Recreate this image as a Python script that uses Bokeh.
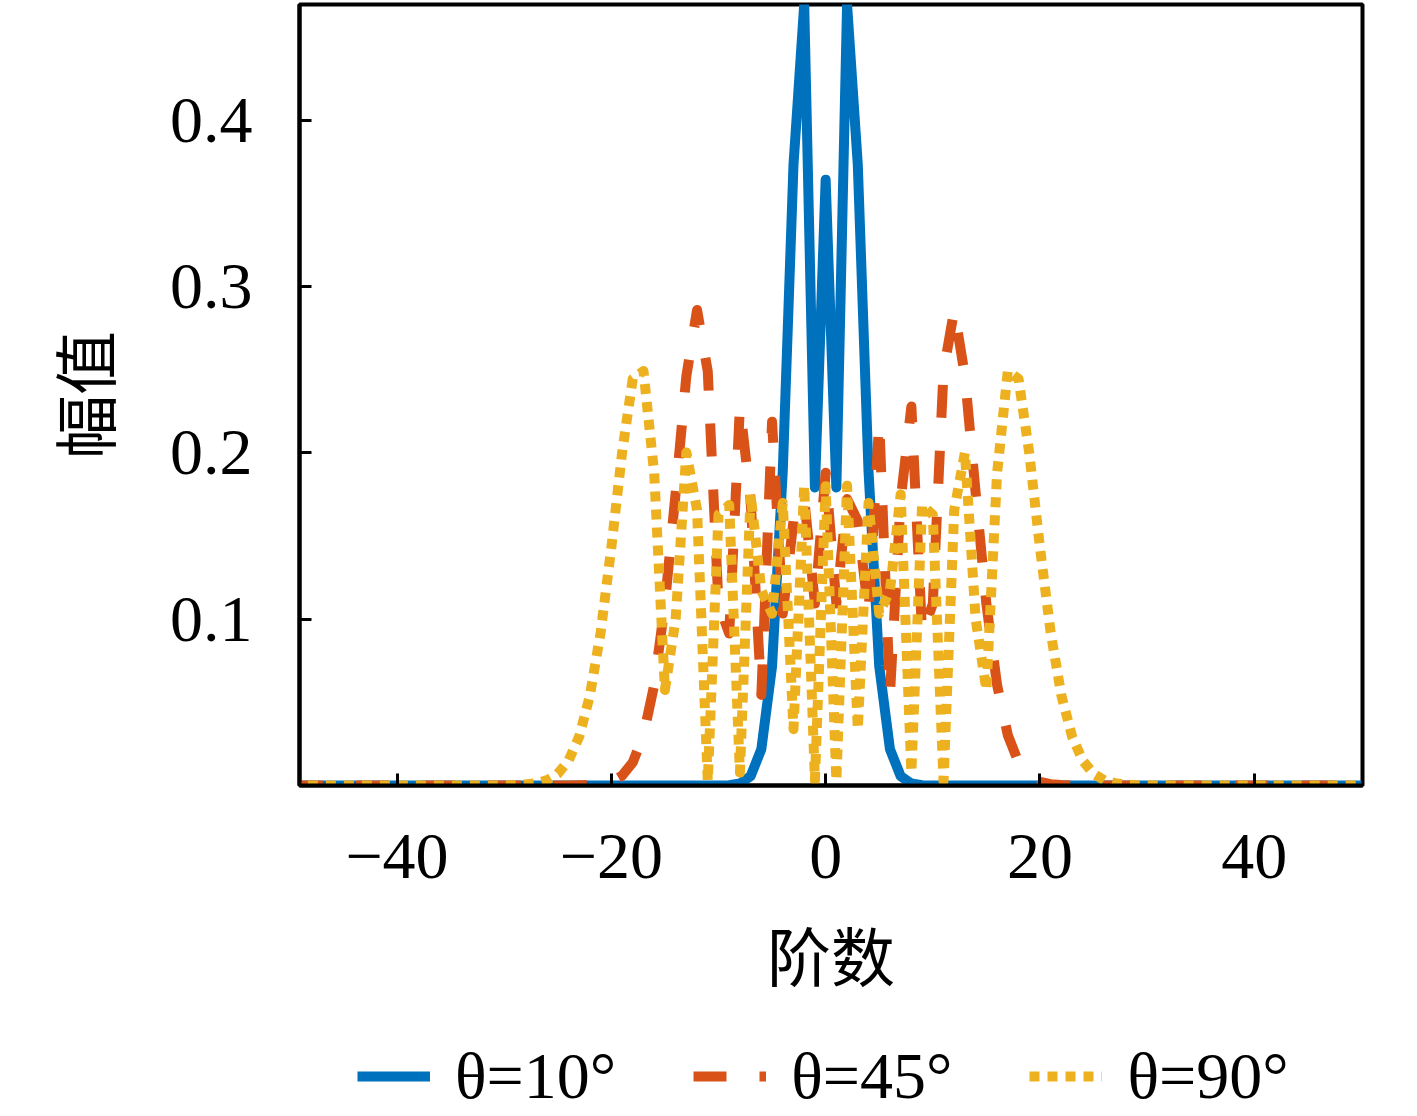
from bokeh.plotting import figure
from bokeh.layouts import column
from bokeh.models import Range1d, FixedTicker, Legend, LegendItem, CustomJSTickFormatter
from bokeh.embed import file_html
from bokeh.resources import INLINE

# order n from -50 to 50
orders = list(range(-50, 51))

# amplitudes read for n = 0, 1, 2, ... (curves are symmetric in n); remaining orders are ~0
blue_half = [0.3643, 0.1792, 0.4697, 0.3734, 0.1892, 0.0718, 0.0219, 0.0056, 0.0012, 0.0002]
orange_half = [0.1881, 0.1094, 0.1723, 0.1591, 0.1034, 0.2188, 0.0545, 0.1717, 0.2279, 0.0914,
               0.1092, 0.2490, 0.2860, 0.2462, 0.1759, 0.1092, 0.0604, 0.0303, 0.0139, 0.0059,
               0.0022, 0.0008, 0.0003, 0.0001]
yellow_half = [0.1800, 0.0029, 0.1803, 0.0339, 0.1699, 0.1033, 0.1172, 0.1751, 0.0078, 0.1687,
               0.1628, 0.0026, 0.1657, 0.2003, 0.1000, 0.0575, 0.1879, 0.2493, 0.2446, 0.2000,
               0.1431, 0.0920, 0.0541, 0.0294, 0.0149, 0.0071, 0.0032, 0.0014, 0.0006, 0.0002,
               0.0001]

labels = ["θ=10°", "θ=45°", "θ=90°"]
colors = ["#0072BD", "#D95319", "#EDB120"]
dashes = ["solid", "33 33", "10 8"]
x_ticks = [-40, -20, 0, 20, 40]
y_ticks = [0.1, 0.2, 0.3, 0.4]


def full(half):
    h = half + [0.0] * (51 - len(half))
    return h[:0:-1] + h


series = [full(blue_half), full(orange_half), full(yellow_half)]
ymax = max(max(s) for s in series)

p = figure(width=1400, height=1036, output_backend="svg", toolbar_location=None,
           x_range=Range1d(-49.1, 50.1), y_range=Range1d(0, ymax),
           min_border_left=299, min_border_right=38, min_border_top=4, min_border_bottom=251)

p.background_fill_color = "white"
p.border_fill_color = "white"
p.outline_line_color = "black"
p.outline_line_width = 4
p.grid.visible = False

for s, c, d in zip(series, colors, dashes):
    p.line(orders, s, line_color=c, line_width=10, line_dash=d, line_join="round")

for ax in (p.xaxis[0], p.yaxis[0]):
    ax.major_tick_in = 12
    ax.major_tick_out = 0
    ax.minor_tick_in = 0
    ax.minor_tick_out = 0
    ax.major_tick_line_width = 3
    ax.axis_line_width = 4
    ax.major_label_text_font = "Liberation Serif"
    ax.major_label_text_font_size = "66px"
    ax.major_label_text_color = "black"
    ax.axis_label_text_font = "Noto Sans CJK SC"
    ax.axis_label_text_font_size = "64px"
    ax.axis_label_text_font_style = "normal"
    ax.axis_label_text_color = "black"

p.xaxis.ticker = FixedTicker(ticks=x_ticks)
p.xaxis.formatter = CustomJSTickFormatter(code="return tick < 0 ? '\u2212' + Math.abs(tick) : tick.toString();")
p.xaxis.major_label_standoff = 49
p.xaxis.axis_label = "阶数"
p.xaxis.axis_label_standoff = 26

p.yaxis.ticker = FixedTicker(ticks=y_ticks)
p.yaxis.major_label_standoff = 47
p.yaxis.axis_label = "幅值"
p.yaxis.axis_label_standoff = 39

# legend strip below the chart (its frame is aligned with the chart's frame by the column)
q = figure(width=1400, height=80, output_backend="svg", toolbar_location=None,
           x_range=Range1d(100, 101), y_range=Range1d(0, 1),
           min_border_left=0, min_border_right=0, min_border_top=0, min_border_bottom=0)
q.axis.visible = False
q.grid.visible = False
q.outline_line_color = None
q.background_fill_color = "white"
q.border_fill_color = "white"

items = []
for s, lab, c, d in zip(series, labels, colors, dashes):
    r = q.line(orders, s, line_color=c, line_width=10, line_dash=d)
    items.append(LegendItem(label=lab, renderers=[r]))

legend = Legend(items=items, orientation="horizontal", location=(58, 0),
                border_line_color=None, background_fill_alpha=0,
                label_text_font="Liberation Serif", label_text_font_size="66px",
                label_text_color="black",
                glyph_width=73, glyph_height=80, label_height=80, label_standoff=25, spacing=77,
                padding=0, margin=0)
q.add_layout(legend, "center")

layout = column(p, q, spacing=0)
open("out.html", "w").write(file_html(layout, INLINE))
